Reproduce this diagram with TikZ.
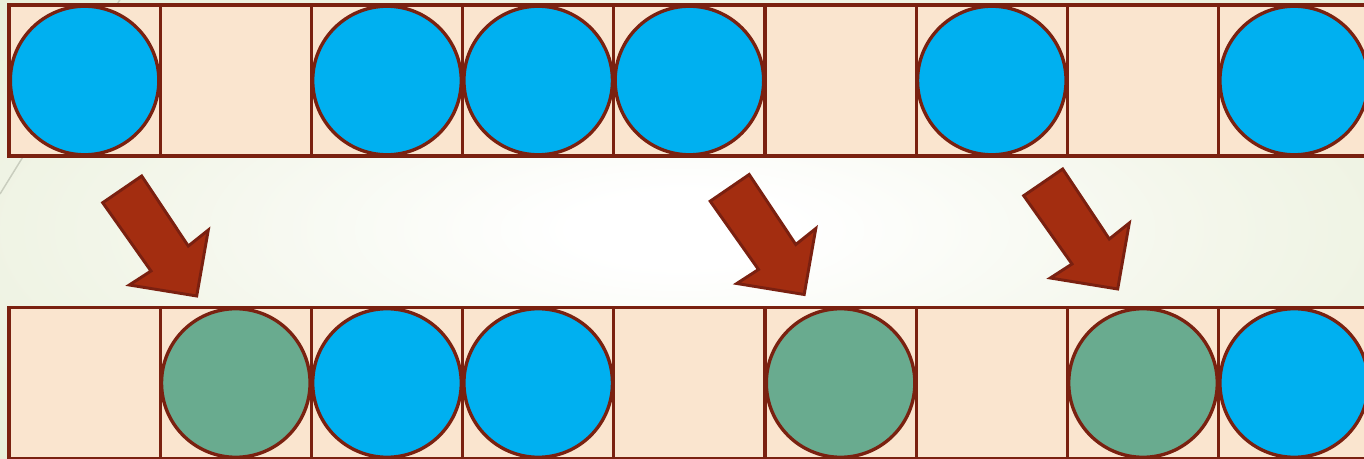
\documentclass[tikz,border=0pt]{standalone}
\usetikzlibrary{calc}
\definecolor{bgG}{HTML}{E4EBD2}
\definecolor{bgM}{HTML}{F3F6EA}
\definecolor{cellF}{HTML}{FAE5CF}
\definecolor{lineC}{HTML}{7A2110}
\definecolor{blueC}{HTML}{00B0F0}
\definecolor{greenC}{HTML}{69AB8F}
\definecolor{arrF}{HTML}{A32D10}
\definecolor{arrD}{HTML}{7A2010}
\definecolor{faint}{HTML}{C9CDBE}
\pgfdeclareradialshading{bgshade}{\pgfpoint{0bp}{0bp}}{color(0bp)=(white); color(4bp)=(white); color(20bp)=(bgM); color(42bp)=(bgG); color(70bp)=(bgG)}
\tikzset{
  cell/.style={draw=lineC, fill=cellF, line width=2.5pt, minimum size=113.4pt, inner sep=0pt, outer sep=0pt},
  ball/.style={circle, draw=lineC, line width=2.5pt, minimum size=111.4pt, inner sep=0pt, outer sep=0pt},
  blueball/.style={ball, fill=blueC},
  greenball/.style={ball, fill=greenC},
  blockarrow/.style={fill=arrF, draw=arrD, line width=2.2pt, line join=miter}
}
\begin{document}
\begin{tikzpicture}[x=0.75pt,y=-0.75pt]
\useasboundingbox (0,0) rectangle (1364,459);
\shade[shading=bgshade] (0,0) rectangle (1364,459);
\draw[faint, line width=1.1pt] (121,-2) -- (0,194);
% top row
\foreach \i in {0,...,8} {
  \node[cell] (t\i) at ({9+151.2*\i+75.6},80.5) {};
}
% bottom row
\foreach \i in {0,...,8} {
  \node[cell] (b\i) at ({9+151.2*\i+75.6},383) {};
}
% top balls
\foreach \i in {0,2,3,4,6,8} {
  \node[blueball] (tb\i) at (t\i) {};
}
% bottom balls
\foreach \i in {2,3,8} {
  \node[blueball] (bb\i) at (b\i) {};
}
\foreach \i in {1,5,7} {
  \node[greenball] (bg\i) at (b\i) {};
}
% block arrows
\foreach \dx/\dy in {0/0, 607.5/-1.5, 921/-7} {
  \begin{scope}[shift={(\dx,\dy)}]
    \draw[blockarrow] (102.7,202.7) -- (141.7,176) -- (188.3,246) -- (208.3,230)
      -- (196.7,296) -- (129.3,285) -- (151,271) -- cycle;
  \end{scope}
}
\end{tikzpicture}
\end{document}
